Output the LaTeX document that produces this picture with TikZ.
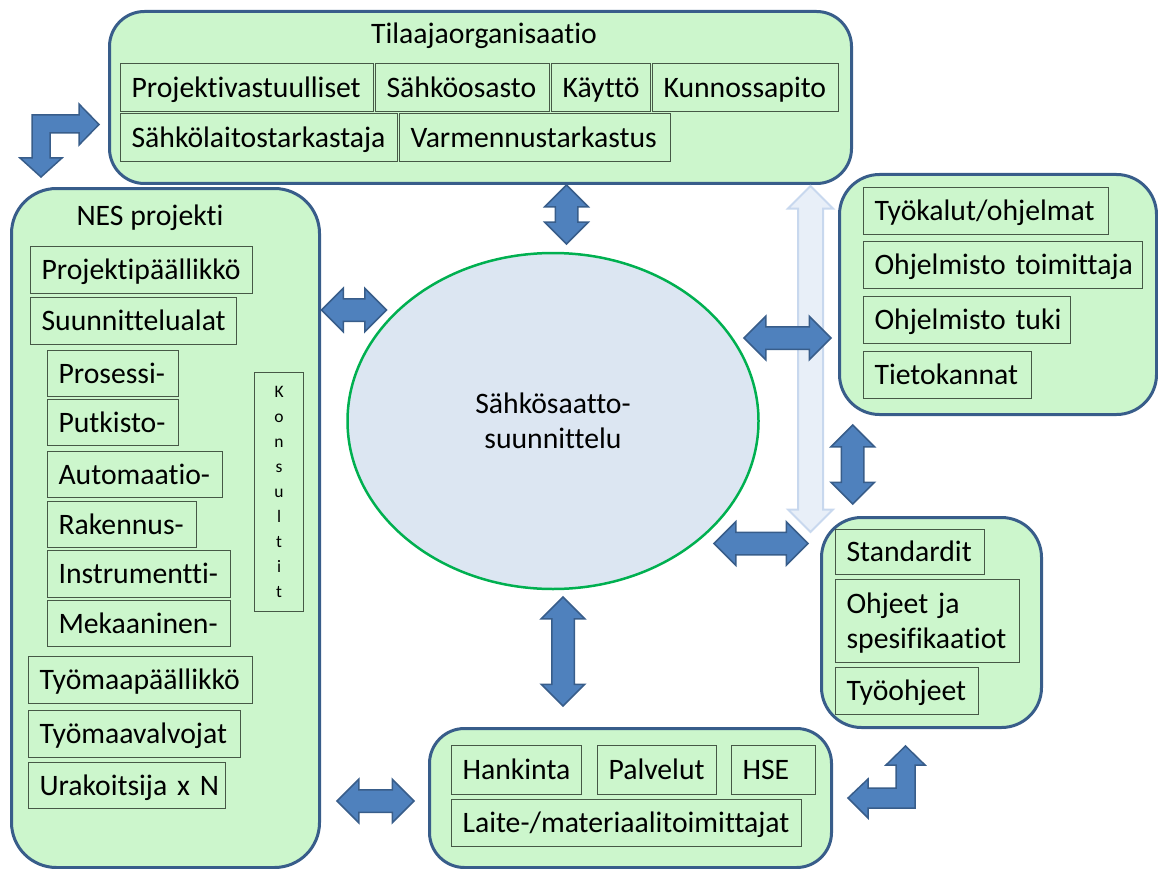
\documentclass[tikz,border=0pt]{standalone}
\usepackage{fontspec}
\setmainfont{Carlito}[Ligatures=NoCommon]
\usetikzlibrary{shapes.geometric,shapes.arrows}

\definecolor{boxfill}{RGB}{204,246,204}
\definecolor{boxline}{RGB}{56,93,138}
\definecolor{itemline}{RGB}{70,88,70}
\definecolor{arrowfill}{RGB}{79,129,189}
\definecolor{arrowline}{RGB}{56,93,138}
\definecolor{ellfill}{RGB}{220,230,242}
\definecolor{ellline}{RGB}{0,176,80}
\definecolor{ghostfill}{RGB}{232,239,248}
\definecolor{ghostline}{RGB}{200,216,238}

% invisible strut so every item label sits at the same height
\newcommand\itemstrut{\rule[-7.4pt]{0pt}{33.9pt}}
\newcommand\labelfont{\fontsize{29.7}{35}\selectfont}

\tikzset{
  group/.style={draw=boxline, fill=boxfill, line width=3pt, rounded corners=#1,
    anchor=north west, inner sep=0pt},
  title/.style={font=\labelfont, inner sep=0pt, anchor=base},
  ibox/.style={draw=itemline, fill=boxfill, line width=1.1pt, anchor=north west,
    inner xsep=11pt, inner ysep=0pt, align=left, font=\labelfont,
    execute at begin node=\itemstrut, execute at end node=\itemstrut},
  dblarrow/.style={double arrow, draw=arrowline, fill=arrowfill, line width=1.5pt,
    inner sep=0pt, inner ysep=10.5pt, double arrow head extend=10.5pt,
    minimum width=42pt, minimum height=#1},
  ghostarrow/.style={double arrow, draw=ghostline, fill=ghostfill, line width=2pt,
    inner sep=0pt, inner ysep=11.5pt, double arrow head extend=10pt,
    minimum width=43pt, minimum height=#1},
  bentarrow/.style={draw=arrowline, fill=arrowfill, line width=1.5pt, line join=miter},
}

% group frame: name, x1, y1, x2, y2, corner radius
\newcommand\grp[6]{\node[group=#6, minimum width={#4-#2}, minimum height={#5-#3}] (#1) at (#2,#3) {};}
% item box: name, x1, y1, x2, y2, label
\newcommand\ibx[6]{\node[ibox, text width={#4-#2-22}, minimum height={#5-#3}] (#1) at (#2,#3) {\mbox{#6}};}

\begin{document}
\begin{tikzpicture}[x=1pt, y=-1pt]
\useasboundingbox (0,0) rectangle (1158,869);

% group frames
\grp{tilaaja}{108}{10}{850}{182}{35pt}
\grp{nes}{10}{187}{318}{866}{45pt}
\grp{tools}{838}{173}{1155}{413}{40pt}
\grp{std}{820}{516}{1040}{726}{40pt}
\grp{hank}{428}{727}{830}{866}{35pt}

% central activity
\node[ellipse, draw=ellline, fill=ellfill, line width=2.5pt, minimum width=411pt,
      minimum height=336pt, inner sep=0pt, align=center,
      font=\labelfont] (core) at (553,421) {Sähkösaatto-\\suunnittelu};

% faint link between the top frame and the standards
\node[ghostarrow=346pt, rotate=90] (ghost) at (810.5,359) {};

% two-way links
\node[dblarrow=59pt, rotate=90] (a1) at (566.5,214.5) {};
\node[dblarrow=65pt] (a2) at (354,310) {};
\node[dblarrow=87pt] (a3) at (787.5,338) {};
\node[dblarrow=79pt, rotate=90] (a4) at (852.7,464.5) {};
\node[dblarrow=94pt] (a5) at (761,543.5) {};
\node[dblarrow=109pt, rotate=90] (a6) at (563,651.5) {};
\node[dblarrow=77pt] (a7) at (375.5,801) {};

% bent arrows
\draw[bentarrow] (32,115) -- (79,115) -- (79,104) -- (99,124.5) -- (79,145) -- (79,133)
  -- (50,133) -- (50,158) -- (62,158) -- (41,177) -- (20,158) -- (32,158) -- cycle;
\draw[bentarrow] (905.5,746) -- (925,765) -- (915,765) -- (915,808) -- (868,808)
  -- (868,818) -- (848,798) -- (868,779) -- (868,788) -- (896,788) -- (896,765)
  -- (886,765) -- cycle;

% titles
\node[title] (tilaajaT) at (484,44) {Tilaajaorganisaatio};
\node[title] (nesT) at (150,225) {NES projekti};

% client organisation
\ibx{proj}{120}{63}{373}{111}{Projektivastuulliset}
\ibx{sahko}{375}{63}{549}{111}{Sähköosasto}
\ibx{kaytto}{551}{63}{650}{111}{Käyttö}
\ibx{kunn}{652}{63}{838}{111}{Kunnossapito}
\ibx{slt}{120}{113}{397}{161}{Sähkölaitostarkastaja}
\ibx{varm}{399}{113}{670}{161}{Varmennustarkastus}

% project organisation
\ibx{pp}{30}{246}{252}{293}{Projektipäällikkö}
\ibx{sa}{30}{297}{236}{344}{Suunnittelualat}
\ibx{pros}{47}{350}{178}{396}{Prosessi-}
\ibx{putk}{47}{399}{178}{445}{Putkisto-}
\ibx{auto}{47}{451}{222}{497}{Automaatio-}
\ibx{rak}{47}{501}{196}{547}{Rakennus-}
\ibx{instr}{47}{550}{230}{597}{Instrumentti-}
\ibx{mek}{47}{600}{230}{646}{Mekaaninen-}
\ibx{tmp}{28}{656}{252}{703}{Työmaapäällikkö}
\ibx{tmv}{28}{710}{240}{757}{Työmaavalvojat}
\ibx{urak}{28}{762}{225}{808}{Urakoitsija x N}
\node[draw=itemline, fill=boxfill, line width=1.1pt, anchor=north west, inner sep=0pt,
      minimum width=49pt, minimum height=239pt, align=center,
      font=\fontsize{17.5}{25}\selectfont] (kons) at (254,372)
      {K\\o\\n\\s\\u\\l\\t\\i\\t};

% tools
\ibx{tyok}{863}{187}{1108}{234}{Työkalut/ohjelmat}
\ibx{ohjt}{863}{241}{1142}{288}{Ohjelmisto toimittaja}
\ibx{ohjtuki}{863}{296}{1070}{343}{Ohjelmisto tuki}
\ibx{tieto}{863}{351}{1031}{398}{Tietokannat}

% standards
\ibx{stand}{835}{529}{984}{574}{Standardit}
\node[ibox, text width=162pt, minimum height=83pt] (ohjeet) at (835,579)
      {Ohjeet ja\\spesifikaatiot};
\ibx{tyoohj}{835}{667}{978}{714}{Työohjeet}

% procurement
\ibx{hankinta}{451}{745}{581}{794}{Hankinta}
\ibx{palv}{597}{745}{716}{794}{Palvelut}
\ibx{hse}{731}{745}{815}{794}{HSE}
\ibx{laite}{451}{799}{801}{846}{Laite-/materiaalitoimittajat}

\end{tikzpicture}
\end{document}
